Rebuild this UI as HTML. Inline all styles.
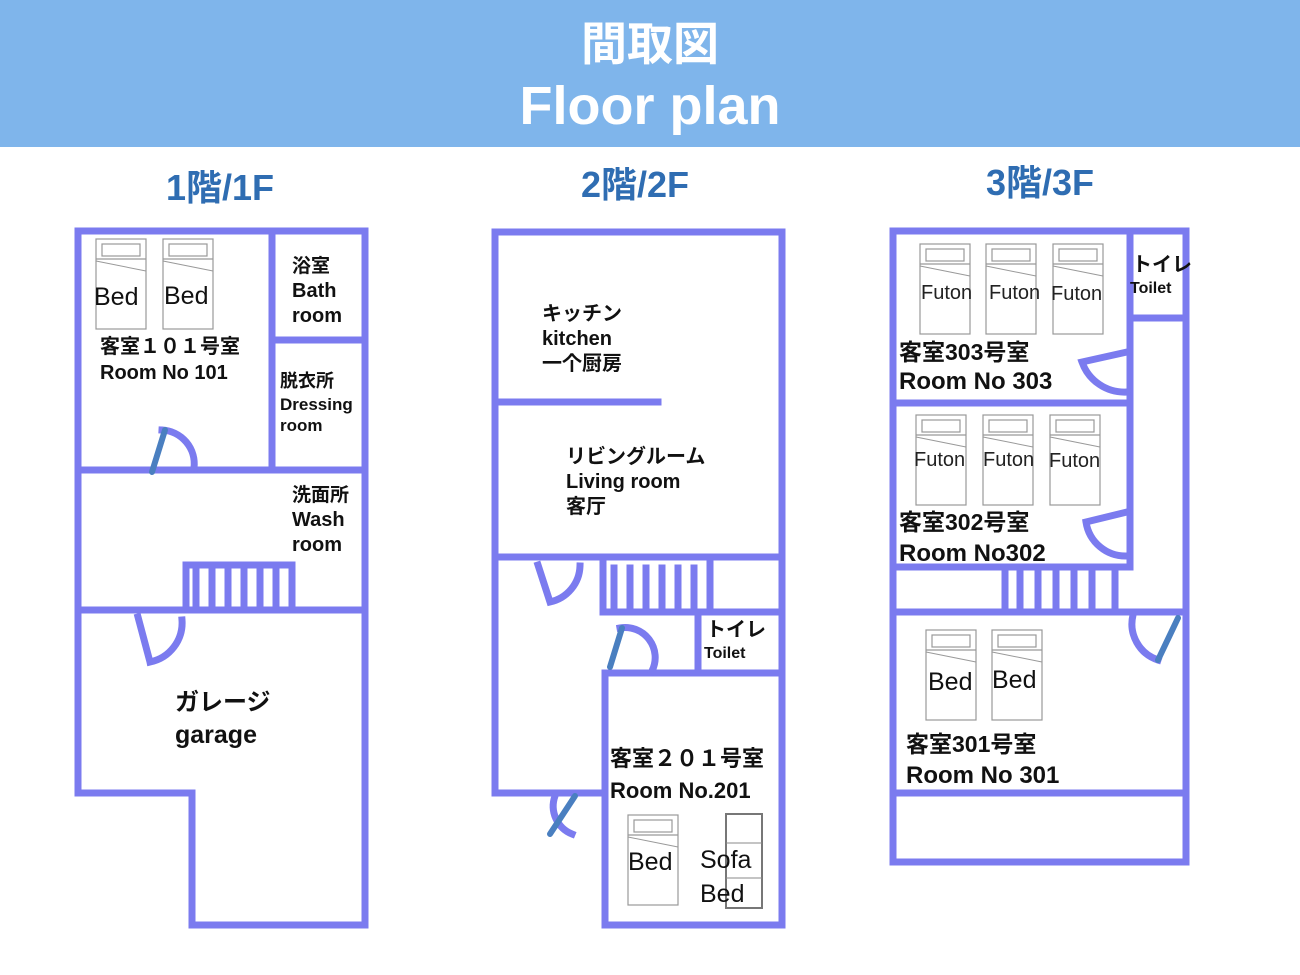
<!DOCTYPE html>
<html><head><meta charset="utf-8"><style>
html,body{margin:0;padding:0;background:#fff;}
body{width:1300px;height:975px;overflow:hidden;position:relative;font-family:"Liberation Sans","Noto Sans CJK JP",sans-serif;}
.hdr{position:absolute;left:0;top:0;width:1300px;height:147px;background:#7fb5eb;color:#fff;text-align:center;font-weight:bold;}
.hdr .a{position:absolute;left:0;width:100%;top:18px;font-size:46px;line-height:52px;}
.hdr .b{position:absolute;left:0;width:100%;top:76px;font-size:54px;line-height:60px;}
svg{position:absolute;left:0;top:0;}
</style></head><body>
<div class="hdr"><div class="a">間取図</div><div class="b">Floor plan</div></div>
<svg width="1300" height="975" viewBox="0 0 1300 975" font-family="Liberation Sans, Noto Sans CJK JP, sans-serif">
<defs>
<g id="bed">
<rect x="0" y="0" width="50" height="90" fill="#fff" stroke="#999" stroke-width="1.2"/>
<rect x="6" y="5" width="38" height="12" fill="none" stroke="#999" stroke-width="1.2"/>
<line x1="0" y1="20" x2="50" y2="20" stroke="#999" stroke-width="1.2"/>
<line x1="0" y1="22" x2="50" y2="32" stroke="#999" stroke-width="1"/>
</g>
</defs>
<g font-weight="bold" fill="#2f6db2" font-size="36" text-anchor="middle">
<text x="220" y="200">1階/1F</text>
<text x="635" y="197">2階/2F</text>
<text x="1040" y="195">3階/3F</text>
</g>
<g stroke="#7b7bef" stroke-width="7" fill="none" stroke-linecap="square">
<path d="M78 231 H365 V925 H192 V793 H78 Z"/>
<path d="M272 231 V470 M272 340 H365 M78 470 H365 M78 610 H365"/>
<path d="M186 610 V565 H292 V610"/>
<path d="M196 570 V606 M212 570 V606 M228 570 V606 M244 570 V606 M260 570 V606 M276 570 V606"/>
<path d="M162 430 A34 34 0 0 1 194 468"/>
<path d="M138 617 L150 662 M150 662 A40 40 0 0 0 182 620"/>
<path d="M495 232 H782 V925 H605 V673 M605 793 H495 V232"/>
<path d="M495 402 H658 M495 557 H782 M603 612 H782 M605 673 H782 M698 612 V673"/>
<path d="M603 560 V612 M710 560 V612"/>
<path d="M614 568 V606 M630 568 V606 M646 568 V606 M662 568 V606 M678 568 V606 M694 568 V606"/>
<path d="M538 565 L550 602 A38 38 0 0 0 580 566"/>
<path d="M620 628 A30 30 0 0 1 652 671"/>
<path d="M555 796 A30 30 0 0 0 572 834"/>
<path d="M893 231 H1186 V862 H893 Z"/>
<path d="M1130 231 V567 M1130 318 H1186 M893 403 H1130 M893 567 H1130 M893 612 H1186 M893 793 H1186"/>
<path d="M1005 570 V612 M1115 570 V612"/>
<path d="M1020 572 V608 M1038 572 V608 M1056 572 V608 M1074 572 V608 M1092 572 V608"/>
<path d="M1127 352 L1082 362 A45 45 0 0 0 1127 392"/>
<path d="M1127 512 L1086 522 A40 40 0 0 0 1127 556"/>
<path d="M1133 615 A38 38 0 0 0 1158 660"/>
</g>
<g stroke="#4a7fc0" stroke-width="6" stroke-linecap="round">
<line x1="152" y1="472" x2="165" y2="430"/>
<line x1="610" y1="667" x2="622" y2="628"/>
<line x1="550" y1="834" x2="575" y2="796"/>
<line x1="1158" y1="660" x2="1178" y2="618"/>
</g>
<use href="#bed" x="96" y="239"/><use href="#bed" x="163" y="239"/>
<use href="#bed" x="920" y="244"/><use href="#bed" x="986" y="244"/><use href="#bed" x="1053" y="244"/>
<use href="#bed" x="916" y="415"/><use href="#bed" x="983" y="415"/><use href="#bed" x="1050" y="415"/>
<use href="#bed" x="926" y="630"/><use href="#bed" x="992" y="630"/>
<use href="#bed" x="628" y="815"/>
<rect x="726" y="814" width="36" height="94" fill="#fff" stroke="#777" stroke-width="2"/>
<line x1="726" y1="843" x2="762" y2="843" stroke="#888"/><line x1="726" y1="878" x2="762" y2="878" stroke="#888"/>
<g fill="#111" font-size="25">
<text x="94" y="305">Bed</text><text x="164" y="304">Bed</text>
<text x="628" y="870">Bed</text><text x="700" y="868">Sofa</text><text x="700" y="902">Bed</text>
<text x="928" y="690">Bed</text><text x="992" y="688">Bed</text>
</g>
<g fill="#222" font-size="20">
<text x="921" y="299">Futon</text><text x="989" y="299">Futon</text><text x="1051" y="300">Futon</text>
<text x="914" y="466">Futon</text><text x="983" y="466">Futon</text><text x="1049" y="467">Futon</text>
</g>
<g fill="#111" font-weight="bold" font-size="20">
<text x="100" y="353">客室１０１号室</text><text x="100" y="379">Room No 101</text>
<text x="292" y="272" font-size="19">浴室</text><text x="292" y="297">Bath</text><text x="292" y="322">room</text>
<text x="280" y="387" font-size="18">脱衣所</text><text x="280" y="410" font-size="17">Dressing</text><text x="280" y="431" font-size="17">room</text>
<text x="292" y="501" font-size="19">洗面所</text><text x="292" y="526">Wash</text><text x="292" y="551">room</text>
<text x="175" y="710" font-size="24">ガレージ</text><text x="175" y="743" font-size="25">garage</text>
<text x="542" y="320">キッチン</text><text x="542" y="345">kitchen</text><text x="542" y="370">一个厨房</text>
<text x="566" y="463">リビングルーム</text><text x="566" y="488">Living room</text><text x="566" y="513">客厅</text>
<text x="706" y="636">トイレ</text><text x="704" y="658" font-size="16">Toilet</text>
<text x="610" y="766" font-size="22">客室２０１号室</text><text x="610" y="798" font-size="22">Room No.201</text>
<text x="1132" y="271">トイレ</text><text x="1130" y="293" font-size="16">Toilet</text>
<text x="899" y="360" font-size="23">客室303号室</text><text x="899" y="389" font-size="24">Room No 303</text>
<text x="899" y="530" font-size="23">客室302号室</text><text x="899" y="561" font-size="24">Room No302</text>
<text x="906" y="752" font-size="23">客室301号室</text><text x="906" y="783" font-size="24">Room No 301</text>
</g>
</svg>
</body></html>
